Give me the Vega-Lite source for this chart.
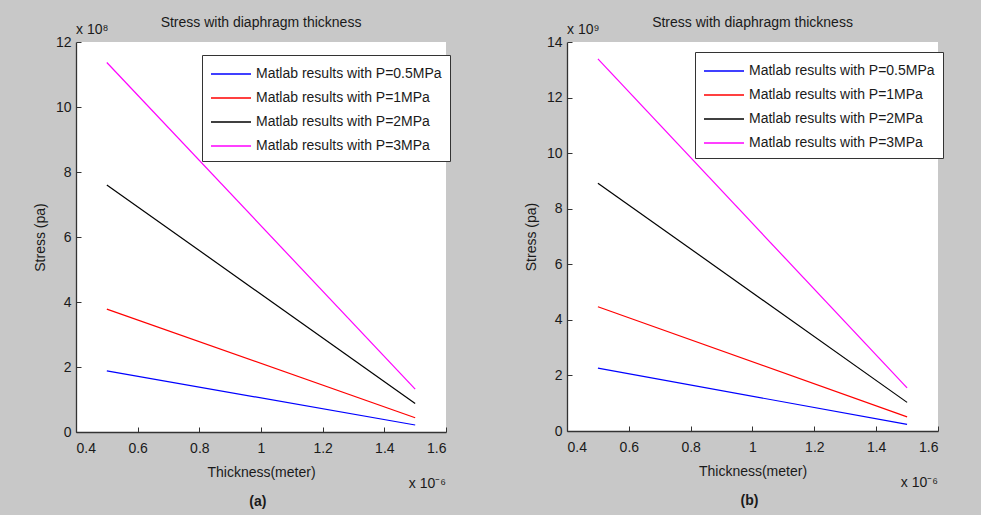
{
  "$schema": "https://vega.github.io/schema/vega-lite/v6.json",
  "background": "#c8c8c8",
  "padding": {"left": 33, "top": 16, "right": 39, "bottom": 6},
  "datasets": {
    "stress": [
      {"panel": "a", "series": "Matlab results with P=0.5MPa", "thickness": 0.5, "stress": 1.88},
      {"panel": "a", "series": "Matlab results with P=0.5MPa", "thickness": 1.5, "stress": 0.215},
      {"panel": "a", "series": "Matlab results with P=1MPa", "thickness": 0.5, "stress": 3.78},
      {"panel": "a", "series": "Matlab results with P=1MPa", "thickness": 1.5, "stress": 0.44},
      {"panel": "a", "series": "Matlab results with P=2MPa", "thickness": 0.5, "stress": 7.6},
      {"panel": "a", "series": "Matlab results with P=2MPa", "thickness": 1.5, "stress": 0.88},
      {"panel": "a", "series": "Matlab results with P=3MPa", "thickness": 0.5, "stress": 11.37},
      {"panel": "a", "series": "Matlab results with P=3MPa", "thickness": 1.5, "stress": 1.32},
      {"panel": "b", "series": "Matlab results with P=0.5MPa", "thickness": 0.5, "stress": 2.26},
      {"panel": "b", "series": "Matlab results with P=0.5MPa", "thickness": 1.5, "stress": 0.24},
      {"panel": "b", "series": "Matlab results with P=1MPa", "thickness": 0.5, "stress": 4.47},
      {"panel": "b", "series": "Matlab results with P=1MPa", "thickness": 1.5, "stress": 0.51},
      {"panel": "b", "series": "Matlab results with P=2MPa", "thickness": 0.5, "stress": 8.92},
      {"panel": "b", "series": "Matlab results with P=2MPa", "thickness": 1.5, "stress": 1.03},
      {"panel": "b", "series": "Matlab results with P=3MPa", "thickness": 0.5, "stress": 13.39},
      {"panel": "b", "series": "Matlab results with P=3MPa", "thickness": 1.5, "stress": 1.55}
    ]
  },
  "config": {
    "font": "Liberation Sans, Arial, sans-serif",
    "view": {"stroke": null, "fill": "white"},
    "axis": {
      "grid": false,
      "domainColor": "#333333",
      "domainWidth": 1.3,
      "tickColor": "#333333",
      "tickSize": -5,
      "labelColor": "#1a1a1a",
      "titleColor": "#1a1a1a",
      "labelFontSize": 14,
      "titleFontSize": 14,
      "titleFontWeight": "normal",
      "labelFont": "Liberation Sans, Arial, sans-serif",
      "titleFont": "Liberation Sans, Arial, sans-serif"
    },
    "legend": {
      "labelFont": "Liberation Sans, Arial, sans-serif",
      "labelFontSize": 14,
      "labelColor": "#1a1a1a",
      "symbolType": "M-2,0H2",
      "symbolSize": 400,
      "symbolStrokeWidth": 1.3,
      "symbolOffset": 10,
      "labelOffset": 14,
      "rowPadding": 6,
      "padding": 8,
      "fillColor": "white",
      "strokeColor": "#333333",
      "labelLimit": 400
    },
    "title": {"font": "Liberation Sans, Arial, sans-serif", "fontSize": 14, "fontWeight": "normal", "color": "#1a1a1a"},
    "text": {"font": "Liberation Sans, Arial, sans-serif", "fontSize": 14, "color": "#1a1a1a"}
  },
  "spacing": 73,
  "resolve": {"scale": {"color": "independent", "x": "independent", "y": "independent"}, "legend": {"color": "independent"}},
  "hconcat": [
    {
      "width": 370,
      "height": 390,
      "title": {"text": "Stress with diaphragm thickness", "offset": -7},
      "layer": [
        {
          "data": {"name": "stress"},
          "transform": [{"filter": "datum.panel === 'a'"}],
          "mark": {"type": "line", "strokeWidth": 1.2},
          "encoding": {
            "x": {"field": "thickness", "type": "quantitative", "scale": {"domain": [0.4, 1.6], "nice": false},
                  "axis": {"values": [0.4, 0.6, 0.8, 1, 1.2, 1.4, 1.6], "format": "~g", "title": "Thickness(meter)", "labelPadding": 14, "titlePadding": 10}},
            "y": {"field": "stress", "type": "quantitative", "scale": {"domain": [0, 12], "nice": false},
                  "axis": {"values": [0, 2, 4, 6, 8, 10, 12], "title": "Stress (pa)", "labelPadding": 10, "titlePadding": 8}},
            "color": {"field": "series", "type": "nominal",
                      "scale": {"domain": ["Matlab results with P=0.5MPa", "Matlab results with P=1MPa", "Matlab results with P=2MPa", "Matlab results with P=3MPa"], "range": ["#0000ff", "#ff0000", "#000000", "#ff00ff"]},
                      "legend": {"orient": "none", "legendX": 126, "legendY": 13, "title": null}}
          }
        },
        {
          "data": {"values": [{"note": "x 10⁸"}]},
          "mark": {"type": "text", "align": "left", "baseline": "bottom", "dy": -5},
          "encoding": {"x": {"datum": 0.4, "type": "quantitative"}, "y": {"datum": 12, "type": "quantitative"}, "text": {"field": "note"}}
        },
        {
          "data": {"values": [{"note": "x 10⁻⁶"}]},
          "mark": {"type": "text", "align": "right", "baseline": "bottom", "dy": 59},
          "encoding": {"x": {"datum": 1.6, "type": "quantitative"}, "y": {"datum": 0, "type": "quantitative"}, "text": {"field": "note"}}
        },
        {
          "data": {"values": [{"note": "(a)"}]},
          "mark": {"type": "text", "align": "center", "baseline": "middle", "dy": 70, "fontWeight": "bold"},
          "encoding": {"x": {"datum": 0.99, "type": "quantitative"}, "y": {"datum": 0, "type": "quantitative"}, "text": {"field": "note"}}
        }
      ]
    },
    {
      "width": 371,
      "height": 389,
      "title": {"text": "Stress with diaphragm thickness", "offset": -7},
      "layer": [
        {
          "data": {"name": "stress"},
          "transform": [{"filter": "datum.panel === 'b'"}],
          "mark": {"type": "line", "strokeWidth": 1.2},
          "encoding": {
            "x": {"field": "thickness", "type": "quantitative", "scale": {"domain": [0.4, 1.6], "nice": false},
                  "axis": {"values": [0.4, 0.6, 0.8, 1, 1.2, 1.4, 1.6], "format": "~g", "title": "Thickness(meter)", "labelPadding": 14, "titlePadding": 10}},
            "y": {"field": "stress", "type": "quantitative", "scale": {"domain": [0, 14], "nice": false},
                  "axis": {"values": [0, 2, 4, 6, 8, 10, 12, 14], "title": "Stress (pa)", "labelPadding": 10, "titlePadding": 8}},
            "color": {"field": "series", "type": "nominal",
                      "scale": {"domain": ["Matlab results with P=0.5MPa", "Matlab results with P=1MPa", "Matlab results with P=2MPa", "Matlab results with P=3MPa"], "range": ["#0000ff", "#ff0000", "#000000", "#ff00ff"]},
                      "legend": {"orient": "none", "legendX": 128, "legendY": 10, "title": null}}
          }
        },
        {
          "data": {"values": [{"note": "x 10⁹"}]},
          "mark": {"type": "text", "align": "left", "baseline": "bottom", "dy": -5},
          "encoding": {"x": {"datum": 0.4, "type": "quantitative"}, "y": {"datum": 14, "type": "quantitative"}, "text": {"field": "note"}}
        },
        {
          "data": {"values": [{"note": "x 10⁻⁶"}]},
          "mark": {"type": "text", "align": "right", "baseline": "bottom", "dy": 59},
          "encoding": {"x": {"datum": 1.6, "type": "quantitative"}, "y": {"datum": 0, "type": "quantitative"}, "text": {"field": "note"}}
        },
        {
          "data": {"values": [{"note": "(b)"}]},
          "mark": {"type": "text", "align": "center", "baseline": "middle", "dy": 70, "fontWeight": "bold"},
          "encoding": {"x": {"datum": 0.99, "type": "quantitative"}, "y": {"datum": 0, "type": "quantitative"}, "text": {"field": "note"}}
        }
      ]
    }
  ]
}
